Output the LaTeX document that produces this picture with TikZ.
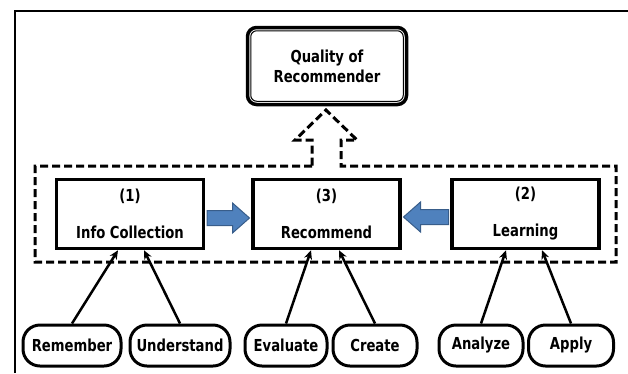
\documentclass[tikz,border=0pt]{standalone}
\usepackage{fontspec}
\setmainfont{DejaVu Sans}[FakeStretch=0.8]
\usetikzlibrary{calc,arrows.meta}
\definecolor{arrowfill}{RGB}{79,129,189}
\definecolor{arrowline}{RGB}{56,93,138}
\tikzset{
  txt/.style={font=\fontsize{16.5}{20}\selectfont\bfseries, align=center},
  procbox/.style={draw, line width=3.5pt, minimum width=147pt, minimum height=69pt, inner sep=0pt, txt},
  skill/.style={draw, line width=3pt, rounded corners=17pt, minimum height=41pt, inner sep=0pt, txt},
  conn/.style={line width=2.5pt, -{Stealth[length=9pt,width=8pt]}},
  blockarrow/.style={fill=arrowfill, draw=arrowline, line width=1pt, line join=miter},
  dashframe/.style={line width=3pt, dash pattern=on 8pt off 4pt, line join=miter},
  frameline/.style={line width=1.5pt},
}
\begin{document}
\begin{tikzpicture}[x=1pt,y=-1pt]
\useasboundingbox (0,0) rectangle (628,373);
% outer frame (left and top edges)
\draw[frameline] (15,373) -- (15,11) -- (628,11);

% top node
\node[draw, line width=3.5pt, rounded corners=9pt, minimum width=159pt, minimum height=77pt, inner sep=0pt, txt] (q) at (327,66) {Quality of\\Recommender};
\draw[line width=1pt, rounded corners=6pt] ($(q.north west)+(5,5)$) rectangle ($(q.south east)+(-5,-5)$);

% dashed group frame with hollow arrow
\draw[dashframe] (312,166) -- (35,166) -- (35,262) -- (616,262) -- (616,166) -- (341,166) -- (341,140) -- (357,140) -- (326,110) -- (295,140) -- (312,140) -- cycle;

% process boxes
\node[procbox] (ic) at (130,214) {(1)\\[17pt]Info Collection};
\node[procbox] (rec) at (326.5,214) {(3)\\[17pt]Recommend};
\node[procbox] (lea) at (525.5,214) {(2)\\[17pt]Learning};

% blue block arrows
\coordinate (la) at ($(ic.east)+(1.75,4)$);
\coordinate (lb) at ($(rec.west)+(-1.75,4)$);
\draw[blockarrow] ($(la)+(0,-7.5)$) -- ($(lb)+(-17,-7.5)$) -- ($(lb)+(-17,-15)$) -- (lb) -- ($(lb)+(-17,15)$) -- ($(lb)+(-17,7.5)$) -- ($(la)+(0,7.5)$) -- cycle;
\coordinate (ra) at ($(lea.west)+(-1.75,3)$);
\coordinate (rb) at ($(rec.east)+(1.75,3)$);
\draw[blockarrow] ($(ra)+(0,-7.5)$) -- ($(rb)+(17,-7.5)$) -- ($(rb)+(17,-15)$) -- (rb) -- ($(rb)+(17,15)$) -- ($(rb)+(17,7.5)$) -- ($(ra)+(0,7.5)$) -- cycle;

% skill nodes
\node[skill, minimum width=98pt] (rem) at (72,345.5) {Remember};
\node[skill, minimum width=100pt] (und) at (180,345.5) {Understand};
\node[skill, minimum width=82pt] (eva) at (286,345.5) {Evaluate};
\node[skill, minimum width=84pt] (cre) at (375,345.5) {Create};
\node[skill, minimum width=84pt] (ana) at (481,345.5) {Analyze};
\node[skill, minimum width=85pt] (app) at (571,345.5) {Apply};

% connectors
\draw[conn] (rem.north) -- ($(ic.south)+(-12,0)$);
\draw[conn] (und.north) -- ($(ic.south)+(14,0)$);
\draw[conn] (eva.north) -- ($(rec.south)+(-15.5,0)$);
\draw[conn] (cre.north) -- ($(rec.south)+(12.5,0)$);
\draw[conn] (ana.north) -- ($(lea.south)+(-19.5,0)$);
\draw[conn] (app.north) -- ($(lea.south)+(16.5,0)$);
\end{tikzpicture}
\end{document}
